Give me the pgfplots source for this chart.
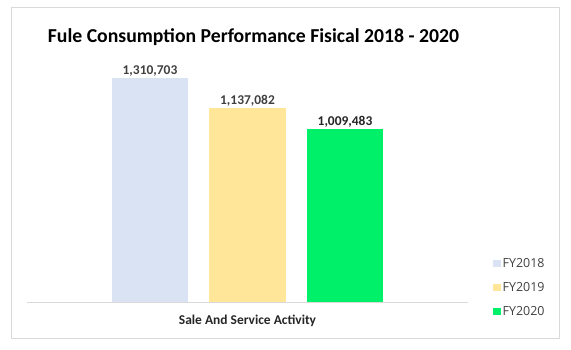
\documentclass[border=0pt]{standalone}
\usepackage{pgfplots}
\pgfplotsset{compat=1.18}
\usepackage{fontspec}
\setmainfont{Carlito}
\newfontfamily\legfont{Open Sans}
\definecolor{cA}{HTML}{DAE3F3}
\definecolor{cB}{HTML}{FFE699}
\definecolor{cC}{HTML}{00F06A}
\definecolor{lbl}{HTML}{404040}
\definecolor{frame}{HTML}{D9D9D9}
\begin{document}
\begin{tikzpicture}[x=1bp,y=1bp]
\useasboundingbox (0,0) rectangle (571,-349);
\draw[frame,line width=0.8bp] (11,-7.5) rectangle (559,-338);
\node[font=\fontsize{19.8}{22}\selectfont\bfseries,text=black] at (253.5,-37) {Fule Consumption Performance Fisical 2018 - 2020};
\begin{axis}[
  at={(27bp,-302bp)}, anchor=south west,
  scale only axis, width=441bp, height=252bp,
  xmin=-1, xmax=1, ymin=0, ymax=1474500,
  axis y line=none,
  axis x line*=bottom,
  x axis line style={frame, line width=0.8bp, -},
  xtick=\empty, ytick=\empty,
  ybar, bar width=76.5bp,
  nodes near coords,
  /pgf/number format/fixed,
  /pgf/number format/1000 sep={,},
  /pgf/number format/assume math mode=true,
  nodes near coords style={font=\fontsize{13.5}{15}\selectfont\bfseries, text=lbl, inner sep=1.5bp},
  legend style={at={(axis description cs:1.0567,0.1817)}, anchor=north west, draw=none, fill=none,
    font=\legfont\fontsize{12.5}{14}\selectfont, text=lbl, row sep=9.5bp, inner sep=0pt},
  legend cell align=left,
  legend image code/.code={\fill[#1] (0bp,-3.5bp) rectangle (7.5bp,4bp);},
  clip=false,
]
\addplot[fill=cA, draw=none, bar shift=-97.5bp] coordinates {(0,1310703)};
\addplot[fill=cB, draw=none, bar shift=0bp] coordinates {(0,1137082)};
\addplot[fill=cC, draw=none, bar shift=97.5bp, nodes near coords style={text=black!85}] coordinates {(0,1009483)};
\legend{FY2018,FY2019,FY2020}
\end{axis}
\node[font=\fontsize{13.5}{15}\selectfont\bfseries,text=black!85] at (247.5,-321) {Sale And Service Activity};
\end{tikzpicture}
\end{document}
